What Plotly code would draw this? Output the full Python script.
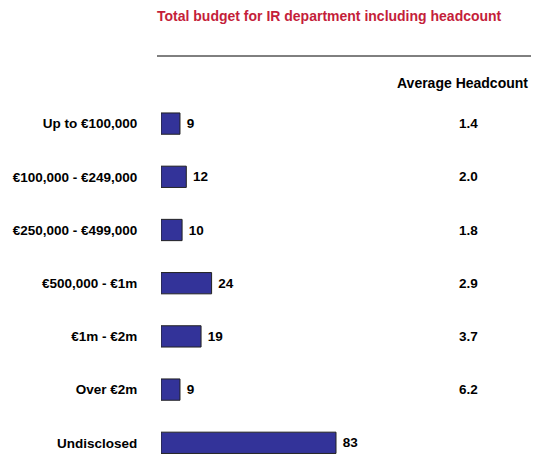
import plotly.graph_objects as go

categories = ["Up to €100,000", "€100,000 - €249,000", "€250,000 - €499,000",
              "€500,000 - €1m", "€1m - €2m", "Over €2m", "Undisclosed"]
counts = [9, 12, 10, 24, 19, 9, 83]
headcount = ["1.4", "2.0", "1.8", "2.9", "3.7", "6.2", ""]

W, H = 535, 459
FONT = "Liberation Sans, Arial, sans-serif"
FS = 13.5
FT = 14

fig = go.Figure()
fig.add_trace(go.Bar(
    x=counts, y=categories, orientation="h",
    marker=dict(color="#333399", line=dict(color="#222222", width=1)),
    width=0.40,
    texttemplate="\u00a0%{x}", textposition="outside",
    textfont=dict(family=FONT, size=FS, color="#000000", weight="bold"),
    cliponaxis=False, hoverinfo="skip",
))

annotations = []
for cat, hc in zip(categories, headcount):
    if hc:
        annotations.append(dict(
            x=468 / W, xref="paper", y=cat, yref="y", text=hc, showarrow=False,
            xanchor="center", yanchor="middle",
            font=dict(family=FONT, size=FS, color="#000000", weight="bold")))
annotations.append(dict(
    x=530 / W, xref="paper", y=1 - 83 / H, yref="paper", text="Average Headcount",
    showarrow=False, xanchor="right", yanchor="middle",
    font=dict(family=FONT, size=FT, color="#000000", weight="bold")))
annotations.append(dict(
    x=155 / W, xref="paper", y=1 - 16 / H, yref="paper",
    text="Total budget for IR department including headcount",
    showarrow=False, xanchor="left", yanchor="middle",
    font=dict(family=FONT, size=FT, color="#C41E3A", weight="bold")))

scale = 175 / 83.0
fig.update_layout(
    width=W, height=H, margin=dict(l=0, r=0, t=0, b=0),
    paper_bgcolor="white", plot_bgcolor="white", showlegend=False,
    xaxis=dict(domain=[161 / W, 1], range=[0, (W - 161) / scale], visible=False),
    yaxis=dict(type="category", categoryorder="array", categoryarray=categories,
               range=[(H - 123.6) / 53.2, -123.6 / 53.2],
               showgrid=False, zeroline=False, showline=False,
               ticks="outside", ticklen=20, tickcolor="rgba(0,0,0,0)",
               tickfont=dict(family=FONT, size=FS, color="#000000", weight="bold")),
    shapes=[dict(type="line", xref="paper", yref="paper",
                 x0=157 / W, x1=531 / W, y0=1 - 56 / H, y1=1 - 56 / H,
                 line=dict(color="#000000", width=1))],
    annotations=annotations,
)

fig.write_html("out.html", config={"displayModeBar": False, "staticPlot": True},
               post_script="document.body.style.margin='0';document.body.style.overflow='hidden';")
